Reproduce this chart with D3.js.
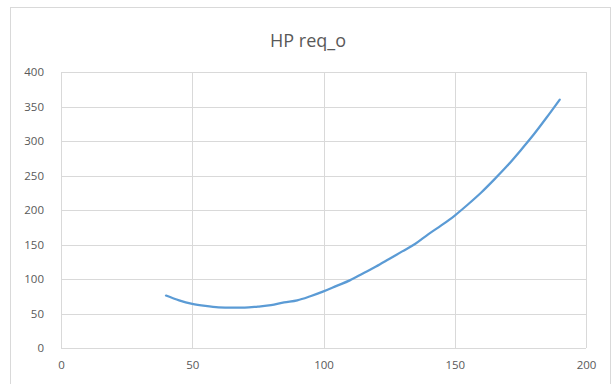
<!DOCTYPE html>
<html>
<head>
<meta charset="utf-8">
<script src="https://cdn.jsdelivr.net/npm/d3@7"></script>
<style>
  body { margin: 0; background: #fff; }
  svg { display: block; }
</style>
</head>
<body>
<svg id="chart"></svg>
<script>
// Chart data
const title = "HP req_o";
const speed = [40, 45, 50, 55, 60, 65, 70, 75, 80, 85, 90, 95, 100, 105, 110, 115,
  120, 125, 130, 135, 140, 145, 150, 155, 160, 165, 170, 175, 180, 185, 190];
const hpReq = [76, 69, 64, 61, 59, 58.5, 58.5, 60, 62, 66, 69, 75, 82, 90, 98, 108,
  118, 129, 140, 151, 165, 178, 192, 208, 225, 244, 264, 286, 309, 334, 360];
const xTicks = [0, 50, 100, 150, 200];
const yTicks = [0, 50, 100, 150, 200, 250, 300, 350, 400];

const W = 616, H = 384;
const margin = {top: 72, right: 30, bottom: 36, left: 61};
const width = W - margin.left - margin.right;
const height = H - margin.top - margin.bottom;

const svg = d3.select("#chart")
  .attr("width", W)
  .attr("height", H);

// outer chart border
svg.append("rect")
  .attr("x", 10.5)
  .attr("y", 7.5)
  .attr("width", 600)
  .attr("height", 390)
  .attr("fill", "#fff")
  .attr("stroke", "#d9d9d9");

svg.append("text")
  .attr("x", 308)
  .attr("y", 47)
  .attr("text-anchor", "middle")
  .attr("font-family", "'Open Sans', sans-serif")
  .attr("font-size", "18px")
  .attr("fill", "#595959")
  .text(title);

const g = svg.append("g")
  .attr("transform", `translate(${margin.left},${margin.top})`);

const x = d3.scaleLinear().domain([0, 200]).range([0, width]);
const y = d3.scaleLinear().domain([0, 400]).range([height, 0]);

// gridlines
g.append("g")
  .selectAll("line.vgrid")
  .data(xTicks)
  .join("line")
  .attr("x1", d => Math.round(x(d)) + 0.5)
  .attr("x2", d => Math.round(x(d)) + 0.5)
  .attr("y1", 0)
  .attr("y2", height)
  .attr("stroke", "#d9d9d9");

g.append("g")
  .selectAll("line.hgrid")
  .data(yTicks)
  .join("line")
  .attr("x1", 0)
  .attr("x2", width)
  .attr("y1", d => Math.round(y(d)) + 0.5)
  .attr("y2", d => Math.round(y(d)) + 0.5)
  .attr("stroke", "#d9d9d9");

// axes (labels only)
const xAxis = g.append("g")
  .attr("transform", `translate(0,${height})`)
  .call(d3.axisBottom(x).tickValues(xTicks).tickSize(0).tickPadding(13));
const yAxis = g.append("g")
  .call(d3.axisLeft(y).tickValues(yTicks).tickSize(0).tickPadding(17));

[xAxis, yAxis].forEach(a => {
  a.select(".domain").remove();
  a.selectAll("text")
    .attr("font-family", "'Open Sans', sans-serif")
    .attr("font-size", "11.5px")
    .attr("fill", "#595959");
});

// data line
const line = d3.line()
  .x((d, i) => x(speed[i]))
  .y(d => y(d))
  .curve(d3.curveMonotoneX);

g.append("path")
  .datum(hpReq)
  .attr("fill", "none")
  .attr("stroke", "#5b9bd5")
  .attr("stroke-width", 2.25)
  .attr("stroke-linecap", "round")
  .attr("d", line);
</script>
</body>
</html>
